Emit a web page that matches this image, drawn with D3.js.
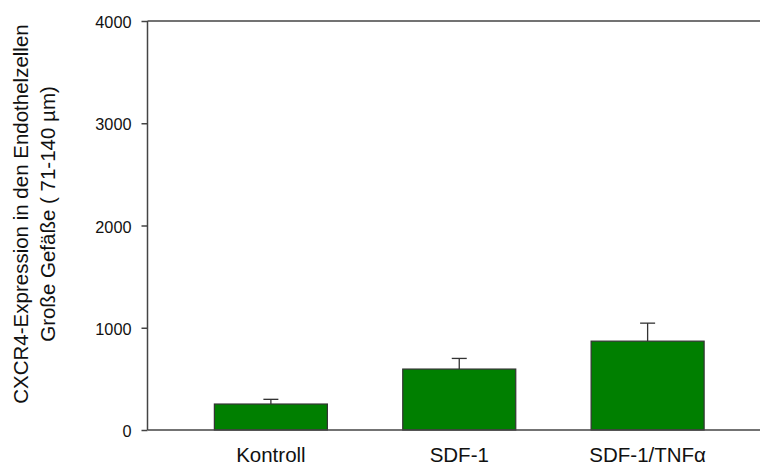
<!DOCTYPE html>
<html>
<head>
<meta charset="utf-8">
<script src="https://cdn.jsdelivr.net/npm/d3@7/dist/d3.min.js"></script>
<style>
  html, body { margin: 0; padding: 0; background: #fff; }
  svg { display: block; font-family: "Liberation Sans", Arial, sans-serif; }
</style>
</head>
<body>
<svg id="chart" width="760" height="468"></svg>
<script>
// Groups, means and error (upper SD) of CXCR4 expression
const categories = ["Kontroll", "SDF-1", "SDF-1/TNFα"];
const means = [254, 596, 869];
const errors = [46, 104, 176];
const yTicks = [0, 1000, 2000, 3000, 4000];

(function () {
  const svg = d3.select("#chart");
  const W = 760;
  const axisX = 147.5, plotTop = 21, plotBottom = 430;

  const y = d3.scaleLinear().domain([0, 4000]).range([plotBottom, plotTop]);
  const x = d3.scaleBand().domain(categories)
    .range([axisX, 771]).paddingInner(0.4).paddingOuter(0.355);

  const axisColor = "#444";

  // Bars
  svg.append("g").selectAll("rect").data(categories).join("rect")
    .attr("x", d => x(d))
    .attr("y", (d, i) => y(means[i]))
    .attr("width", x.bandwidth())
    .attr("height", (d, i) => y(0) - y(means[i]))
    .attr("fill", "#007f00")
    .attr("stroke", "#333")
    .attr("stroke-width", 1.2);

  // Error bars (upper only)
  const eg = svg.append("g").attr("stroke", "#333").attr("stroke-width", 1.3);
  categories.forEach((c, i) => {
    const cx = x(c) + x.bandwidth() / 2;
    eg.append("line").attr("x1", cx).attr("x2", cx)
      .attr("y1", y(means[i])).attr("y2", y(means[i] + errors[i]));
    eg.append("line").attr("x1", cx - 7.5).attr("x2", cx + 7.5)
      .attr("y1", y(means[i] + errors[i])).attr("y2", y(means[i] + errors[i]));
  });

  // Frame lines: left axis, top and bottom
  const frame = svg.append("g").attr("stroke", axisColor).attr("stroke-width", 1.5);
  frame.append("line").attr("x1", axisX).attr("x2", axisX).attr("y1", y(4000)).attr("y2", y(0));
  frame.append("line").attr("x1", axisX).attr("x2", W).attr("y1", y(4000)).attr("y2", y(4000));
  frame.append("line").attr("x1", axisX).attr("x2", W).attr("y1", y(0)).attr("y2", y(0));

  // Y axis ticks and labels
  const yAxis = d3.axisLeft(y).tickValues(yTicks).tickSize(6).tickPadding(10).tickFormat(d3.format("d"));
  const yg = svg.append("g").attr("transform", `translate(${axisX},0)`).call(yAxis);
  yg.select(".domain").remove();
  yg.selectAll(".tick line").attr("stroke", axisColor).attr("stroke-width", 1.5);
  yg.selectAll(".tick text").attr("font-size", 16.3).attr("fill", "#111")
    .attr("font-family", "Liberation Sans, Arial, sans-serif")
    .attr("dy", "0.4em");

  // X category labels
  const xAxis = d3.axisBottom(x).tickSize(0).tickPadding(22);
  const xg = svg.append("g").attr("transform", `translate(0,${plotBottom})`).call(xAxis);
  xg.select(".domain").remove();
  xg.selectAll(".tick text").attr("font-size", 20.5).attr("fill", "#111")
    .attr("font-family", "Liberation Sans, Arial, sans-serif")
    .attr("dy", "0.5em");

  // Y axis title (two lines)
  const title = svg.append("text")
    .attr("transform", "translate(0,214) rotate(-90)")
    .attr("text-anchor", "middle")
    .attr("font-size", 20.5)
    .attr("fill", "#111");
  title.append("tspan").attr("x", 0).attr("y", 27.5).text("CXCR4-Expression in den Endothelzellen");
  title.append("tspan").attr("x", 0).attr("y", 55).text("Große Gefäße ( 71-140 µm)");
})();
</script>
</body>
</html>
